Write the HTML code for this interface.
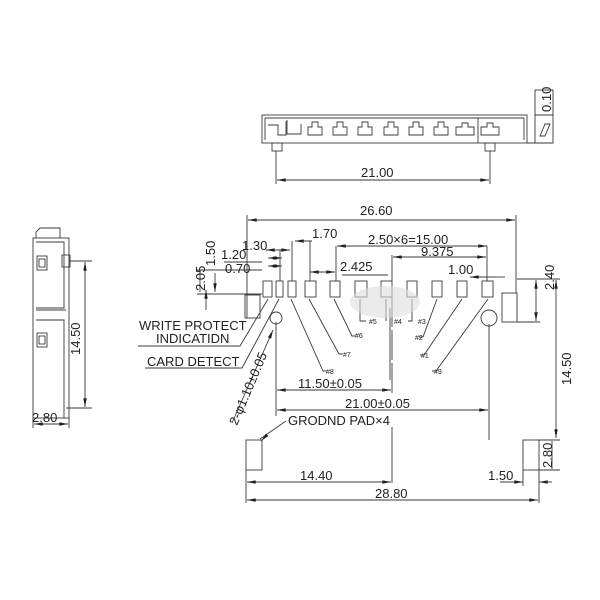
<!DOCTYPE html>
<html><head><meta charset="utf-8"><style>
html,body{margin:0;padding:0;background:#fff}
svg{display:block}
text{font-family:"Liberation Sans",sans-serif;fill:#222}
</style></head><body>
<svg width="600" height="600" viewBox="0 0 600 600" xmlns="http://www.w3.org/2000/svg">
<defs>
<marker id="a" viewBox="0 0 10 4" refX="10" refY="2" markerWidth="9" markerHeight="3.5" orient="auto-start-reverse" markerUnits="userSpaceOnUse"><path d="M0,0L10,2L0,4z" fill="#222"/></marker>
</defs>
<g stroke="#3a3a3a" stroke-width="0.9" fill="none">
<rect x="262" y="115" width="265" height="28"/>
<line x1="265" y1="118" x2="524" y2="118"/>
<line x1="265" y1="118" x2="265" y2="140"/>
<line x1="524" y1="118" x2="524" y2="140"/>
<line x1="478" y1="118" x2="478" y2="143"/>
<rect x="272" y="143" width="10" height="8"/>
<rect x="485" y="143" width="10" height="8"/>
<path d="M268 125h10v10h8v-14M287 120v14h14v-10"/>
<path d="M308 135v-8h4v-5h6v5h4v8zM333 135v-8h4v-5h6v5h4v8zM358 135v-8h4v-5h6v5h4v8zM384 135v-8h4v-5h6v5h4v8zM409 135v-8h4v-5h6v5h4v8zM434 135v-8h4v-5h6v5h4v8zM456 135v-8h6v-4h6v4h6v8zM481 135v-8h6v-4h6v4h6v8z"/>
<line x1="276" y1="151" x2="276" y2="184"/>
<line x1="490" y1="151" x2="490" y2="184"/>
<line x1="277" y1="180" x2="489" y2="180" marker-start="url(#a)" marker-end="url(#a)"/>
<rect x="535" y="90" width="18" height="25"/><rect x="535" y="115" width="18" height="28"/>
<path d="M540 136l5-12h5l-5 12z"/>
<line x1="527" y1="143" x2="553" y2="143"/>
<rect x="33" y="238" width="36" height="180"/>
<path d="M36 238v-6l4-4h20v10"/>
<rect x="37" y="256" width="10" height="14"/><rect x="39" y="259" width="6" height="8"/>
<rect x="37" y="333" width="10" height="14"/><rect x="39" y="336" width="6" height="8"/>
<path d="M36 242h28v66h-28M36 320h28v98M36 310h30"/>
<rect x="62" y="255" width="8" height="12"/>
<line x1="70" y1="261" x2="92" y2="261"/>
<line x1="66" y1="408" x2="92" y2="408"/>
<line x1="85" y1="262" x2="85" y2="407" marker-start="url(#a)" marker-end="url(#a)"/>
<line x1="33" y1="418" x2="33" y2="428"/><line x1="69" y1="418" x2="69" y2="428"/>
<line x1="34" y1="424" x2="68" y2="424" marker-start="url(#a)" marker-end="url(#a)"/>
<line x1="247" y1="215" x2="247" y2="318"/>
<line x1="516" y1="215" x2="516" y2="293"/>
<line x1="248" y1="220" x2="515" y2="220" marker-start="url(#a)" marker-end="url(#a)"/>
<g>
<rect x="263" y="281" width="9" height="16"/><rect x="276" y="281" width="7" height="16"/>
<rect x="288" y="281" width="8" height="16"/><rect x="305" y="281" width="11" height="16"/>
<rect x="330" y="281" width="10" height="16"/><rect x="355" y="281" width="12" height="16"/>
<rect x="381" y="281" width="11" height="16"/><rect x="407" y="281" width="10" height="16"/>
<rect x="432" y="281" width="10" height="16"/><rect x="457" y="281" width="10" height="16"/>
<rect x="482" y="281" width="11" height="16"/>
</g>
<rect x="245" y="295" width="15" height="23"/>
<rect x="502" y="293" width="15" height="29"/>
<circle cx="276" cy="318" r="6"/><circle cx="489" cy="318" r="8"/>
<line x1="292" y1="241" x2="292" y2="281"/>
<line x1="295" y1="241" x2="312" y2="241" marker-start="url(#a)"/>
<line x1="310" y1="241" x2="310" y2="281"/>
<line x1="336" y1="246" x2="336" y2="281"/>
<line x1="337" y1="246" x2="487" y2="246" marker-start="url(#a)" marker-end="url(#a)"/>
<line x1="487" y1="246" x2="487" y2="281"/>
<line x1="392" y1="255" x2="392" y2="281"/>
<line x1="393" y1="257" x2="486" y2="257" marker-start="url(#a)" marker-end="url(#a)"/>
<line x1="310" y1="272" x2="335" y2="272" marker-start="url(#a)" marker-end="url(#a)"/>
<line x1="342" y1="275" x2="388" y2="275"/>
<line x1="266" y1="250" x2="290" y2="250" marker-start="url(#a)" marker-end="url(#a)"/>
<line x1="280" y1="250" x2="280" y2="281"/>
<line x1="268" y1="258" x2="282" y2="258" marker-start="url(#a)" marker-end="url(#a)"/>
<line x1="268" y1="266" x2="282" y2="266" marker-start="url(#a)" marker-end="url(#a)"/>
<line x1="224" y1="262" x2="262" y2="262"/>
<line x1="197" y1="270" x2="262" y2="270"/>
<line x1="197" y1="294" x2="262" y2="294"/>
<line x1="215" y1="273" x2="215" y2="292" marker-end="url(#a)"/>
<line x1="206" y1="290" x2="206" y2="310" marker-start="url(#a)"/>
<line x1="200" y1="270" x2="200" y2="292"/>
<line x1="470" y1="277" x2="495" y2="277" marker-start="url(#a)"/>
<line x1="495" y1="277" x2="505" y2="277"/>
<line x1="517" y1="279" x2="560" y2="279"/>
<line x1="517" y1="322" x2="540" y2="322"/>
<line x1="536" y1="280" x2="536" y2="321" marker-start="url(#a)" marker-end="url(#a)"/>
<line x1="556" y1="280" x2="556" y2="438" marker-start="url(#a)" marker-end="url(#a)"/>
<path d="M268 299L240 346H138"/>
<path d="M279 299L242 368H145"/>
<path d="M291 299l32 72h4M309 299l30 55h4M334 299l18 37h4M360 299v22h6M386 299v22M390 308v72M412 299v22h-4M437 299l-14 38h-4M462 299l-38 56h-4M488 299l-52 72h-4"/>
<path d="M276 322v94M489 324v116"/>
<line x1="392" y1="297" x2="392" y2="393" stroke-dasharray="30 3"/>
<line x1="277" y1="390" x2="391" y2="390" marker-start="url(#a)" marker-end="url(#a)"/>
<line x1="277" y1="410" x2="488" y2="410" marker-start="url(#a)" marker-end="url(#a)"/>
<path d="M232 423L273 330" marker-end="url(#a)"/>
<rect x="246" y="440" width="16" height="30"/>
<rect x="523" y="440" width="16" height="30"/>
<path d="M286 421l-26 18"/>
<line x1="262" y1="440" x2="261" y2="441" marker-end="url(#a)"/>
<line x1="392" y1="427" x2="392" y2="483"/>
<line x1="246" y1="470" x2="246" y2="503"/>
<line x1="539" y1="470" x2="539" y2="503"/>
<line x1="523" y1="470" x2="523" y2="486"/>
<line x1="247" y1="482" x2="391" y2="482" marker-start="url(#a)" marker-end="url(#a)"/>
<line x1="500" y1="482" x2="523" y2="482" marker-end="url(#a)"/>
<line x1="539" y1="482" x2="552" y2="482" marker-start="url(#a)"/>
<line x1="247" y1="500" x2="538" y2="500" marker-start="url(#a)" marker-end="url(#a)"/>
<line x1="539" y1="440" x2="560" y2="440"/>
<line x1="539" y1="470" x2="560" y2="470"/>
<line x1="552" y1="441" x2="552" y2="469"/>
</g>
<ellipse cx="385" cy="302" rx="35" ry="16" fill="#ddd" opacity="0.6"/>
<g font-size="13">
<text x="361" y="177">21.00</text>
<text x="551" y="112" transform="rotate(-90 551 112)">0.10</text>
<text x="360" y="215">26.60</text>
<text x="312" y="238">1.70</text>
<text x="368" y="244">2.50×6=15.00</text>
<text x="421" y="256">9.375</text>
<text x="340" y="271">2.425</text>
<text x="448" y="274">1.00</text>
<text x="242" y="250">1.30</text>
<text x="221" y="259">1.20</text>
<text x="225" y="273">0.70</text>
<text x="215" y="266" transform="rotate(-90 215 266)">1.50</text>
<text x="205" y="291" transform="rotate(-90 205 291)">2.05</text>
<text x="554" y="290" transform="rotate(-90 554 290)">2.40</text>
<text x="571" y="385" transform="rotate(-90 571 385)">14.50</text>
<text x="80" y="355" transform="rotate(-90 80 355)">14.50</text>
<text x="32" y="422">2.80</text>
<text x="298" y="388">11.50±0.05</text>
<text x="345" y="408">21.00±0.05</text>
<text x="237" y="426" transform="rotate(-67 237 426)">2-φ1.10±0.05</text>
<text x="139" y="330">WRITE PROTECT</text>
<text x="156" y="343">INDICATIDN</text>
<text x="147" y="366">CARD DETECT</text>
<text x="288" y="425">GRODND PAD×4</text>
<text x="300" y="480">14.40</text>
<text x="488" y="480">1.50</text>
<text x="375" y="498">28.80</text>
<text x="552" y="468" transform="rotate(-90 552 468)">2.80</text>
</g>
<g font-size="7">
<text x="369" y="324">#5</text><text x="394" y="324">#4</text><text x="418" y="324">#3</text>
<text x="355" y="338">#6</text><text x="415" y="340">#2</text>
<text x="343" y="357">#7</text><text x="421" y="358">#1</text>
<text x="326" y="374">#8</text><text x="434" y="374">#9</text>
</g>
</svg>
</body></html>
